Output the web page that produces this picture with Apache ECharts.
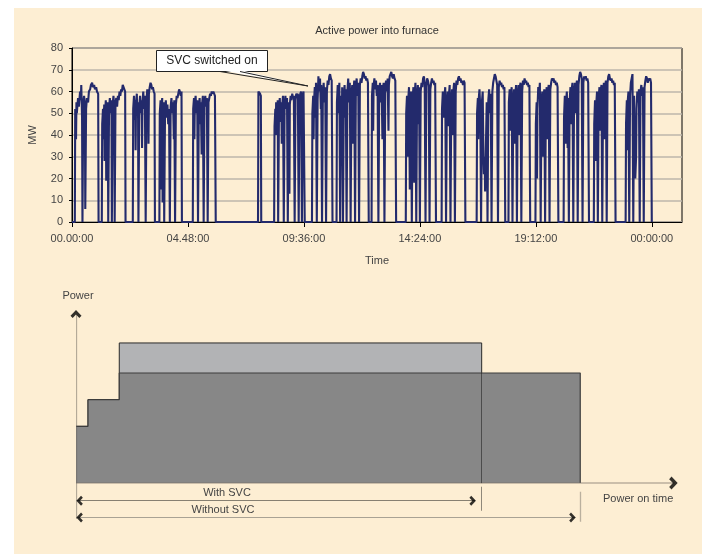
<!DOCTYPE html>
<html>
<head>
<meta charset="utf-8">
<title>Active power into furnace</title>
<script src="https://cdn.jsdelivr.net/npm/echarts@6/dist/echarts.min.js"></script>
<style>
html, body { margin: 0; padding: 0; background: #fff; }
#panel { position: absolute; left: 14px; top: 8px; width: 688px; height: 546px; background: #fdeed3; }
#chart { position: absolute; left: 0; top: 0; width: 702px; height: 554px; }
</style>
</head>
<body>
<div id="panel"></div>
<div id="chart"></div>
<script>
// time axis (minutes from midnight) and its labels
var tickStep = 288;
var timeLabels = ['00.00:00', '04.48:00', '09:36:00', '14:24:00', '19:12:00', '00:00:00'];

// active power into furnace, [minute, MW]
var shift1 = [
  [0,0],[7,0],[8,52],[10,38],[11,55],[12,50],[15,57],[17,53],[20,60],[22,56],[23,63],[25,48],[26,0],[27,0],[28,55],[30,58],[32,54],[33,6],[35,52],[37,57],[40,55],[42,60],[45,61],[47,63],[50,64],[52,62],[55,63],[57,61],[60,62],[62,60],[65,59],[66,0],
  [74,0],[75,45],[77,52],[78,38],[80,54],[81,28],[82,50],[84,56],[85,19],[86,48],[88,55],[89,46],[90,0],[91,0],[92,52],[94,57],[96,50],[98,56],[99,0],[100,0],[101,54],[103,58],[105,52],[106,0],[107,0],[108,55],[110,57],[112,53],[114,58],[116,56],[118,60],[120,58],[122,61],[124,60],[126,63],[128,62],[130,61],[132,60],[133,0],
  [151,0],[152,52],[154,58],[156,47],[157,56],[158,33],[159,54],[161,59],[162,49],[164,55],[165,0],[166,0],[167,53],[169,58],[171,50],[173,56],[174,34],[175,55],[177,60],[179,52],[181,58],[183,0],[184,0],[185,56],[187,61],[189,57],[190,36],[191,59],[193,62],[195,64],[197,63],[199,61],[201,62],[203,60],[205,59],[206,0],
  [217,0],[218,50],[220,56],[221,15],[222,53],[224,57],[225,9],[226,52],[228,55],[229,0],[230,0],[231,50],[233,56],[235,48],[237,54],[239,45],[241,52],[243,0],[244,0],[245,53],[247,57],[249,50],[251,55],[253,38],[254,56],[256,0],[257,0],[258,54],[260,58],[262,57],[264,59],[266,61],[268,60],[270,58],[272,60],[273,0],
  [300,0],[301,52],[303,57],[304,38],[305,54],[307,58],[309,50],[311,56],[313,0],[314,0],[315,53],[317,57],[319,45],[320,55],[322,31],[323,54],[325,58],[327,0],[328,0],[329,55],[331,58],[333,53],[335,57],[337,0],[338,0],[339,55],[341,57],[343,59],[345,58],[347,60],[349,59],[351,60],[353,59],[355,58],[357,0],
  [462,0],[463,60],[465,60],[467,59],[469,58],[470,0]
];
var shift2 = [
  [502,0],[503,44],[505,52],[506,40],[507,55],[509,48],[511,56],[512,0],[513,0],[514,50],[516,57],[518,46],[520,55],[521,36],[522,53],[524,58],[526,0],[527,0],[528,54],[530,58],[532,52],[534,57],[536,0],[537,0],[538,55],[540,13],[541,54],[543,58],[545,56],[547,59],[549,57],[551,58],[553,0],[554,0],[555,56],[557,59],[559,58],[561,59],[563,0],[564,0],[565,57],[567,59],[569,60],[571,0],[572,0],[573,58],[575,60],[577,60],[578,0],
  [596,0],[597,50],[599,58],[600,38],[601,55],[603,62],[605,48],[606,64],[608,0],[609,0],[610,56],[612,67],[614,60],[616,66],[618,52],[619,63],[621,0],[622,0],[623,58],[625,64],[627,55],[629,62],[631,0],[632,0],[633,60],[635,65],[637,63],[639,67],[641,68],[643,66],[645,65],[647,0],
  [657,0],[658,55],[660,63],[662,50],[664,64],[666,0],[667,0],[668,58],[670,42],[671,62],[673,0],[674,0],[675,57],[677,63],[679,48],[680,61],[682,0],[683,0],[684,60],[686,66],[688,55],[690,64],[692,0],[693,0],[694,58],[696,63],[698,36],[699,60],[701,65],[703,0],[704,0],[705,62],[707,66],[709,58],[711,64],[713,0],[714,0],[715,63],[717,66],[719,64],[721,67],[723,69],[725,68],[727,66],[729,67],[731,65],[733,66],[735,64],[737,0],
  [744,0],[745,58],[747,64],[748,42],[749,62],[751,66],[753,61],[755,65],[757,58],[759,63],[761,0],[762,0],[763,60],[765,64],[767,55],[769,63],[771,38],[772,61],[774,64],[776,0],[777,0],[778,62],[780,65],[782,60],[784,66],[786,42],[787,63],[789,67],[791,68],[793,69],[795,67],[797,66],[799,68],[801,66],[803,65],[805,0],
  [829,0],[830,50],[832,58],[834,30],[835,56],[837,62],[839,15],[840,55],[842,60],[844,0],[845,0],[846,57],[848,62],[850,18],[851,58],[853,64],[855,0],[856,0],[857,58],[859,63],[861,45],[862,62],[864,0],[865,0],[866,60],[868,64],[870,62],[872,66],[874,67],[876,64],[878,0],[879,0],[880,62],[882,66],[884,65],[886,63],[888,0],[889,0],[890,61],[892,64],[894,66],[896,64],[898,65],[900,63],[902,64],[904,0],
  [918,0],[919,52],[921,60],[923,48],[925,58],[927,62],[929,0],[930,0],[931,55],[933,60],[935,44],[936,58],[938,63],[940,0],[941,0],[942,56],[944,61],[946,40],[947,60],[949,64],[951,0],[952,0],[953,60],[955,65],[957,63],[959,66],[961,67],[963,65],[965,66],[967,64],[969,65],[971,63],[973,65],[975,64],[977,0]
];
var shift3 = [
  [1005,0],[1006,50],[1008,57],[1009,38],[1010,56],[1012,61],[1014,52],[1016,0],[1017,0],[1018,55],[1020,60],[1022,28],[1023,22],[1025,30],[1026,14],[1027,25],[1029,45],[1030,55],[1032,0],[1033,0],[1034,56],[1036,61],[1038,50],[1040,59],[1042,0],[1043,0],[1044,60],[1046,64],[1048,66],[1050,68],[1052,67],[1054,65],[1056,63],[1058,0],[1059,0],[1060,62],[1062,65],[1064,63],[1066,64],[1068,62],[1070,63],[1072,61],[1074,62],[1076,0],
  [1084,0],[1085,55],[1087,61],[1089,42],[1090,58],[1092,62],[1094,0],[1095,0],[1096,56],[1098,61],[1100,36],[1101,59],[1103,63],[1105,0],[1106,0],[1107,58],[1109,63],[1111,40],[1112,62],[1114,64],[1116,0],[1117,0],[1118,60],[1120,65],[1122,63],[1124,66],[1126,64],[1128,65],[1130,63],[1132,64],[1134,62],[1136,63],[1138,0],
  [1151,0],[1152,45],[1154,55],[1155,20],[1156,52],[1158,62],[1160,58],[1162,64],[1164,0],[1165,0],[1166,55],[1168,60],[1170,30],[1171,57],[1173,61],[1175,0],[1176,0],[1177,58],[1179,62],[1181,38],[1182,60],[1184,63],[1186,0],[1187,0],[1188,61],[1190,64],[1192,66],[1194,65],[1196,66],[1198,64],[1200,65],[1202,63],[1204,64],[1206,62],[1208,0],
  [1221,0],[1222,48],[1224,58],[1226,36],[1227,55],[1229,60],[1231,34],[1232,57],[1234,0],[1235,0],[1236,56],[1238,62],[1240,45],[1241,61],[1243,64],[1245,0],[1246,0],[1247,59],[1249,64],[1251,50],[1252,62],[1254,65],[1256,0],[1257,0],[1258,63],[1260,67],[1262,69],[1264,68],[1266,66],[1268,0],[1269,0],[1270,64],[1272,67],[1274,66],[1276,67],[1278,65],[1280,66],[1282,64],[1284,0],
  [1296,0],[1297,45],[1299,56],[1301,28],[1302,54],[1304,60],[1306,0],[1307,0],[1308,57],[1310,62],[1312,42],[1313,60],[1315,63],[1317,0],[1318,0],[1319,60],[1321,64],[1323,38],[1324,62],[1326,65],[1328,0],[1329,0],[1330,64],[1332,67],[1334,68],[1336,66],[1338,65],[1340,66],[1342,64],[1344,65],[1346,63],[1348,64],[1350,0],
  [1375,0],[1376,45],[1378,56],[1379,33],[1380,55],[1382,60],[1384,0],[1385,0],[1386,58],[1388,64],[1390,66],[1392,68],[1394,0],[1395,0],[1396,58],[1398,28],[1399,20],[1401,30],[1402,52],[1404,60],[1406,55],[1408,61],[1410,0],[1411,0],[1412,60],[1414,63],[1416,58],[1418,62],[1420,0],[1421,0],[1422,62],[1424,65],[1426,67],[1428,66],[1430,64],[1432,66],[1434,65],[1436,66],[1438,64],[1440,0]
];
var furnaceMW = shift1.concat(shift2, shift3);

// schematic below: [time, power] in arbitrary units
var withoutSvc = [[0,34],[2,34],[2,50],[7.2,50],[7.2,66],[83.9,66],[83.9,0]];
var withSvc = [[0,34],[2,34],[2,50],[7.2,50],[7.2,84],[67.5,84],[67.5,0]];
var svcEnd = 67.5, noSvcEnd = 83.9;

var chevron = 'path://M0,9 L10,0 L20,9 L16,12.5 L10,7 L4,12.5 Z';
var font = 'Liberation Sans, Arial, sans-serif';

var myChart = echarts.init(document.getElementById('chart'), null, {renderer: 'canvas'});

option = {
    animation: false,
    backgroundColor: 'transparent',
    textStyle: {fontFamily: font},
    grid: [
        {left: 72, right: 20, top: 48, bottom: 332, show: true, borderColor: '#000', borderWidth: 1},
        {left: 76, right: 25, top: 309.6, bottom: 30.9}
    ],
    xAxis: [
        {
            type: 'value', gridIndex: 0, min: 0, max: 1515, interval: tickStep,
            name: 'Time', nameLocation: 'middle', nameGap: 33,
            nameTextStyle: {fontSize: 11, color: '#444'},
            axisLine: {lineStyle: {color: '#000', width: 1}},
            axisTick: {length: 5, lineStyle: {color: '#000'}},
            splitLine: {show: false},
            axisLabel: {
                fontSize: 11, color: '#444', margin: 11, showMaxLabel: false,
                formatter: function (v) {
                    var i = v / tickStep;
                    return Math.abs(i - Math.round(i)) < 1e-6 && timeLabels[Math.round(i)] ? timeLabels[Math.round(i)] : '';
                }
            }
        },
        {type: 'value', gridIndex: 1, min: 0, max: 100, show: false}
    ],
    yAxis: [
        {
            type: 'value', gridIndex: 0, min: 0, max: 80, interval: 10,
            name: 'MW', nameLocation: 'middle', nameGap: 34, nameRotate: 90,
            nameTextStyle: {fontSize: 11, color: '#444'},
            axisLine: {show: true, lineStyle: {color: '#000', width: 1}},
            axisTick: {show: true, length: 3, lineStyle: {color: '#000'}},
            axisLabel: {fontSize: 11, color: '#444', margin: 9},
            splitLine: {lineStyle: {color: '#bcb6ab', width: 1.5}}
        },
        {type: 'value', gridIndex: 1, min: -24, max: 104, show: false}
    ],
    graphic: [
        {type: 'text', x: 377, y: 31, style: {text: 'Active power into furnace', font: '11px ' + font, fill: '#333', align: 'center', verticalAlign: 'middle'}},
        {type: 'rect', shape: {x: 156.5, y: 50.5, width: 111, height: 21}, style: {fill: '#fff', stroke: '#222', lineWidth: 1}, z: 100},
        {type: 'polygon', shape: {points: [[220, 70], [240, 70], [308, 86]]}, style: {fill: '#fff'}, z: 101},
        {type: 'polyline', shape: {points: [[220, 71.5], [308, 86], [240, 71.5]]}, style: {stroke: '#222', lineWidth: 1, fill: null}, z: 101},
        {type: 'text', x: 212, y: 61, style: {text: 'SVC switched on', font: '12px ' + font, fill: '#222', align: 'center', verticalAlign: 'middle'}, z: 102},
        {type: 'text', x: 78, y: 296, style: {text: 'Power', font: '11px ' + font, fill: '#444', align: 'center', verticalAlign: 'middle'}},
        {type: 'text', x: 603, y: 499, style: {text: 'Power on time', font: '11px ' + font, fill: '#444', align: 'left', verticalAlign: 'middle'}},
        {type: 'text', x: 227, y: 493, style: {text: 'With SVC', font: '11px ' + font, fill: '#444', align: 'center', verticalAlign: 'middle'}},
        {type: 'text', x: 223, y: 510, style: {text: 'Without SVC', font: '11px ' + font, fill: '#444', align: 'center', verticalAlign: 'middle'}}
    ],
    series: [
        {
            name: 'Active power', type: 'line', xAxisIndex: 0, yAxisIndex: 0,
            data: furnaceMW, showSymbol: false, symbol: 'none',
            lineStyle: {color: '#232a6c', width: 2.1}, z: 3
        },
        {
            name: 'With SVC', type: 'line', xAxisIndex: 1, yAxisIndex: 1,
            data: withSvc, showSymbol: false, symbol: 'none',
            lineStyle: {color: '#2a2a2a', width: 1},
            areaStyle: {color: '#b2b3b5', opacity: 1}, z: 2
        },
        {
            name: 'Without SVC', type: 'line', xAxisIndex: 1, yAxisIndex: 1,
            data: withoutSvc, showSymbol: false, symbol: 'none',
            lineStyle: {color: '#3c3c3c', width: 1.2},
            areaStyle: {color: '#878787', opacity: 1}, z: 3
        },
        {
            name: 'guides', type: 'lines', coordinateSystem: 'cartesian2d', xAxisIndex: 1, yAxisIndex: 1, z: 4,
            data: [
                {coords: [[0, -21.5], [0, 101]], lineStyle: {color: '#6b665e', width: 1.3}},
                {coords: [[0, 0], [99.6, 0]], lineStyle: {color: '#77726a', width: 1.6}},
                {coords: [[svcEnd, 66], [svcEnd, 0]], lineStyle: {color: '#111', width: 1}},
                {coords: [[svcEnd, -2.2], [svcEnd, -16.6]], lineStyle: {color: '#222', width: 1}},
                {coords: [[noSvcEnd, -5.2], [noSvcEnd, -23.2]], lineStyle: {color: '#77726a', width: 1.3}},
                {coords: [[0.2, -10.6], [66.4, -10.6]], lineStyle: {color: '#111', width: 1}},
                {coords: [[0.2, -20.6], [83.1, -20.6]], lineStyle: {color: '#555', width: 1.2}}
            ]
        },
        {
            name: 'arrows', type: 'scatter', xAxisIndex: 1, yAxisIndex: 1, z: 5, clip: false,
            symbol: chevron, itemStyle: {color: '#000'},
            data: [
                {value: [0, 101.3], symbolSize: [11, 8], symbolRotate: 0},
                {value: [99.4, 0], symbolSize: [13, 8.5], symbolRotate: -90},
                {value: [0.6, -10.6], symbolSize: [10, 6.5], symbolRotate: 90},
                {value: [66.0, -10.6], symbolSize: [10, 6.5], symbolRotate: -90},
                {value: [0.6, -20.6], symbolSize: [10, 6.5], symbolRotate: 90},
                {value: [82.6, -20.6], symbolSize: [10, 6.5], symbolRotate: -90}
            ]
        }
    ]
};

myChart.setOption(option);
</script>
</body>
</html>
